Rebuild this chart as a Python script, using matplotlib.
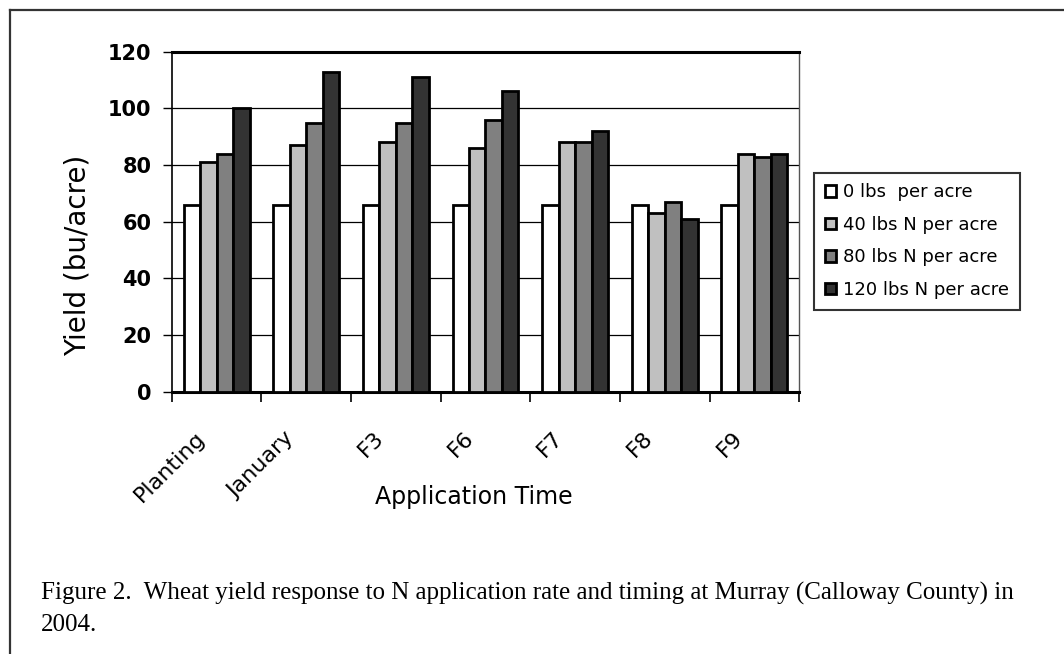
import numpy as np
import matplotlib
matplotlib.use("Agg")
import matplotlib.pyplot as plt
import matplotlib.transforms as mtransforms
from matplotlib.lines import Line2D

times = ["Planting", "January", "F3", "F6", "F7", "F8", "F9"]
rates = ["0 lbs  per acre", "40 lbs N per acre", "80 lbs N per acre", "120 lbs N per acre"]
yield_0 = [66, 66, 66, 66, 66, 66, 66]
yield_40 = [81, 87, 88, 86, 88, 63, 84]
yield_80 = [84, 95, 95, 96, 88, 67, 83]
yield_120 = [100, 113, 111, 106, 92, 61, 84]
yticks = [0, 20, 40, 60, 80, 100, 120]

colors = ["#ffffff", "#c0c0c0", "#808080", "#333333"]

W, H = 1064, 654


def fx(px):
  return px / W


def fy(px):
  return 1 - px / H


def draw_chart():
  fig = plt.figure(figsize=(W / 100, H / 100), dpi=100)
  ax = fig.add_axes([fx(171.7), fy(391.7), fx(799.3) - fx(171.7), fy(51.7) - fy(391.7)])

  series = [yield_0, yield_40, yield_80, yield_120]
  x = np.arange(len(times))
  w = 0.184
  for k, vals in enumerate(series):
    ax.bar(x + (k - 1.5) * w, vals, width=w, color=colors[k], edgecolor="black",
           linewidth=2.0, label=rates[k], zorder=3)

  ax.set_xlim(-0.5, len(times) - 0.5)
  ax.set_ylim(0, 120)
  ax.set_yticks(yticks)
  ax.set_yticklabels([str(v) for v in yticks], fontsize=15, fontweight="bold")
  ax.yaxis.grid(True, color="black", linewidth=0.9, zorder=0)
  ax.tick_params(axis="y", direction="out", length=6.5, width=1.0, pad=8)

  # ticks between categories, labels at the centres
  ax.set_xticks(np.arange(-0.5, len(times)), labels=[""] * (len(times) + 1))
  ax.tick_params(axis="x", which="major", direction="out", length=7, width=1.2)
  ax.set_xticks(x, minor=True)
  ax.set_xticklabels(times, minor=True, rotation=45, ha="right", va="top", fontsize=16)
  ax.tick_params(axis="x", which="minor", length=0, pad=26)
  off = mtransforms.ScaledTranslation(-8 / 100, 0, fig.dpi_scale_trans)
  for lab in ax.get_xticklabels(minor=True):
    lab.set_transform(lab.get_transform() + off)

  ax.spines["top"].set_linewidth(2.2)
  ax.spines["bottom"].set_linewidth(2.2)
  ax.spines["left"].set_linewidth(1.2)
  ax.spines["right"].set_linewidth(1.0)
  ax.spines["right"].set_color("#555555")

  fig.text(fx(78), fy(255), "Yield (bu/acre)", rotation=90, ha="center", va="center", fontsize=20)
  fig.text(fx(474), fy(497), "Application Time", ha="center", va="center", fontsize=17)

  leg = fig.legend(loc="center", bbox_to_anchor=(fx(917), fy(241)), fontsize=13,
                   frameon=True, fancybox=False, handlelength=0.6, handleheight=0.6,
                   handletextpad=0.4, labelspacing=0.8, borderpad=0.6, borderaxespad=0)
  leg.get_frame().set_edgecolor("black")
  leg.get_frame().set_linewidth(1.5)

  fig.text(fx(41), fy(593),
           "Figure 2.  Wheat yield response to N application rate and timing at Murray (Calloway County) in",
           ha="left", va="center", fontsize=18, family="Liberation Serif")
  fig.text(fx(41), fy(625), "2004.", ha="left", va="center", fontsize=18, family="Liberation Serif")

  # page border
  fig.add_artist(Line2D([fx(10), 1], [fy(10), fy(10)], transform=fig.transFigure, color="#333333", lw=1.6))
  fig.add_artist(Line2D([fx(10), fx(10)], [fy(10), 0], transform=fig.transFigure, color="#333333", lw=1.6))

  fig.savefig("out.png", dpi=100)


def main():
  draw_chart()


if __name__ == "__main__":
  main()
